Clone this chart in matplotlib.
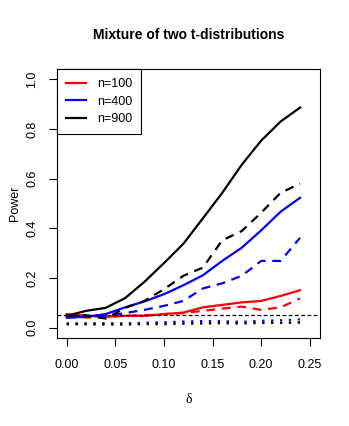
import numpy as np
import matplotlib.pyplot as plt

plt.rcParams['font.family'] = ['Liberation Sans', 'DejaVu Sans']

# delta grid
delta = [0.00, 0.02, 0.04, 0.06, 0.08, 0.10, 0.12, 0.14, 0.16, 0.18, 0.20, 0.22, 0.24]

# solid lines
n100_solid = [0.055, 0.048, 0.044, 0.048, 0.048, 0.055, 0.061, 0.082, 0.092, 0.102, 0.108, 0.128, 0.151]
n400_solid = [0.041, 0.044, 0.055, 0.082, 0.106, 0.135, 0.171, 0.211, 0.269, 0.322, 0.392, 0.467, 0.523]
n900_solid = [0.048, 0.068, 0.080, 0.119, 0.185, 0.260, 0.338, 0.440, 0.543, 0.656, 0.753, 0.830, 0.886]

# dashed lines
n100_dashed = [0.050, 0.041, 0.044, 0.048, 0.050, 0.055, 0.059, 0.068, 0.077, 0.085, 0.072, 0.082, 0.118]
n400_dashed = [0.041, 0.044, 0.048, 0.059, 0.072, 0.088, 0.108, 0.158, 0.179, 0.209, 0.269, 0.269, 0.362]
n900_dashed = [0.048, 0.050, 0.037, 0.080, 0.108, 0.155, 0.209, 0.242, 0.352, 0.389, 0.463, 0.543, 0.580]

# dotted lines
n100_dotted = [0.018, 0.018, 0.017, 0.016, 0.018, 0.020, 0.022, 0.021, 0.024, 0.020, 0.024, 0.020, 0.022]
n400_dotted = [0.016, 0.017, 0.018, 0.017, 0.020, 0.022, 0.025, 0.027, 0.026, 0.024, 0.028, 0.030, 0.034]
n900_dotted = [0.014, 0.014, 0.013, 0.013, 0.015, 0.014, 0.016, 0.017, 0.018, 0.017, 0.019, 0.020, 0.021]

level = 0.05
labels = ['n=100', 'n=400', 'n=900']
colors = ['red', 'blue', 'black']

fig = plt.figure(figsize=(3.49, 4.26), dpi=100)
ax = fig.add_axes([0.1633, 0.2073, 0.7522, 0.63])

lw = 1.6
solid = [n100_solid, n400_solid, n900_solid]
dashed = [n100_dashed, n400_dashed, n900_dashed]
dotted = [n100_dotted, n400_dotted, n900_dotted]
for i in range(3):
    ax.plot(delta, solid[i], color=colors[i], lw=lw, label=labels[i])
    ax.plot(delta, dashed[i], color=colors[i], lw=lw, linestyle=(0, (4, 3)))
    ax.plot(delta, dotted[i], color=colors[i], lw=lw, linestyle=(0, (1, 3)))

ax.axhline(level, color='black', lw=0.9, linestyle=(0, (3, 2)))

ax.set_xlim(-0.01, 0.26)
ax.set_ylim(-0.04, 1.04)
ax.set_xticks([0.00, 0.05, 0.10, 0.15, 0.20, 0.25])
ax.set_xticklabels(['0.00', '0.05', '0.10', '0.15', '0.20', '0.25'])
ax.set_yticks([0.0, 0.2, 0.4, 0.6, 0.8, 1.0])
ax.set_yticklabels(['0.0', '0.2', '0.4', '0.6', '0.8', '1.0'], rotation=90, va='center')
ax.tick_params(direction='out', length=5.5, width=0.8, labelsize=9, pad=8)
ax.tick_params(axis='x', pad=10)
for s in ax.spines.values():
    s.set_linewidth(0.8)

fig.text(0.54, 0.918, 'Mixture of two t-distributions', fontsize=10, fontweight='bold',
         ha='center', va='center')
ax.set_xlabel('δ', family=['Liberation Serif', 'DejaVu Serif'], fontsize=10)
ax.xaxis.set_label_coords(0.5, -0.23)
ax.xaxis.label.set_va('center')
ax.set_ylabel('Power', fontsize=9)
ax.yaxis.set_label_coords(-0.16, 0.5)
ax.yaxis.label.set_va('center')

leg = ax.legend(loc='upper left', borderaxespad=0, fancybox=False, edgecolor='black',
                framealpha=1, fontsize=9, handlelength=1.6, handletextpad=0.9,
                borderpad=0.7, labelspacing=0.45)
leg.get_frame().set_linewidth(0.8)

fig.savefig('out.png', dpi=100)
